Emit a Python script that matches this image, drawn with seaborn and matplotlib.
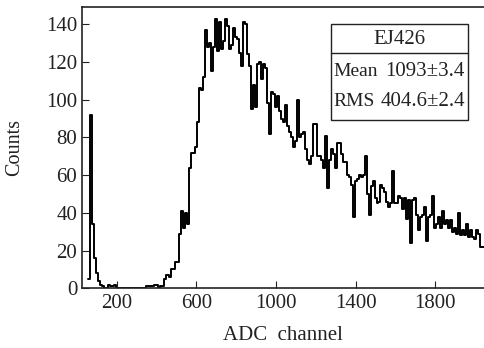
import numpy as np
import pandas as pd
import matplotlib
matplotlib.use("Agg")
import matplotlib.pyplot as plt
import seaborn as sns
from matplotlib.patches import Rectangle

# histogram: 10-channel bins starting at channel 55
bin_start = 55
bin_width = 10
counts = [
    # 55 - 195
    5, 92, 34, 16, 8, 4, 2, 1, 0, 0, 2, 1, 1, 2, 0,
    # 205 - 335
    0, 0, 0, 0, 0, 0, 0, 0, 0, 0, 0, 0, 0, 0,
    # 345 - 425
    1, 1, 1, 1, 2, 2, 0, 1, 1,
    # 435 - 995
    5, 7, 7, 6, 10, 10, 14, 14, 29, 41,
    32, 40, 34, 64, 72, 72, 75, 88, 106, 105,
    112, 137, 128, 130, 115, 128, 143, 126, 141, 127,
    131, 143, 139, 127, 129, 138, 133, 132, 125, 118,
    141, 140, 124, 118, 95, 108, 96, 119, 120, 111,
    119, 117, 98, 82, 104, 103, 96,
    # 1005 - 1115
    102, 94, 90, 88, 97, 86, 83, 80, 75, 78, 100, 80,
    # 1125 - 2035
    82, 83, 74, 68, 66, 70, 87, 87, 70, 70,
    68, 64, 81, 53, 68, 74, 71, 64, 77, 77,
    71, 67, 67, 60, 59, 55, 38, 57, 58, 60,
    59, 60, 70, 50, 39, 54, 57, 48, 45, 46,
    55, 53, 51, 46, 43, 45, 62, 45, 45, 49,
    48, 42, 48, 37, 47, 24, 47, 48, 39, 31,
    38, 39, 43, 25, 38, 39, 49, 32, 34, 38,
    32, 41, 34, 36, 32, 36, 30, 32, 29, 40,
    28, 31, 28, 34, 27, 31, 27, 26, 31, 29,
    22, 22,
]
x_ticks = [200, 600, 1000, 1400, 1800]
y_ticks = [0, 20, 40, 60, 80, 100, 120, 140]
title = "EJ426"
stat_names = ["Mean", "RMS"]
stat_values = ["1093\u00b13.4", "404.6\u00b12.4"]

edges = [bin_start + bin_width * i for i in range(len(counts) + 1)]
df = pd.DataFrame({"channel": np.array(edges[:-1]) + bin_width / 2,
                   "counts": counts})

sns.set_style("ticks")
plt.rcParams["font.family"] = ["Liberation Serif", "DejaVu Serif"]

fig = plt.figure(figsize=(4.84, 3.48), dpi=100)
ax = fig.add_axes([81.5 / 484, 1 - 288.3 / 348, 402.5 / 484, 281 / 348])

sns.histplot(data=df, x="channel", weights="counts", bins=edges, element="step",
             fill=False, color="black", linewidth=1.4, ax=ax)

ax.set_xlim(23, 2045)
ax.set_ylim(0, 149)
ax.set_xticks(x_ticks)
ax.set_yticks(y_ticks)
ax.tick_params(direction="in", length=5, width=0.8, labelsize=15,
               colors="#222222", pad=4)
ax.tick_params(axis="y", pad=3)
for s in ["left", "bottom", "top"]:
    ax.spines[s].set_linewidth(1.2)
    ax.spines[s].set_color("#222222")
ax.spines["right"].set_visible(False)

ax.set_xlabel("ADC  channel", fontsize=15, color="#222222")
ax.set_ylabel("Counts", fontsize=14.5, color="#222222")
ax.xaxis.set_label_coords(0.5, -0.133)
ax.yaxis.set_label_coords(-0.143, 0.5)

# stats box
def fx(px):
    return (px - 81.5) / 402.5

def fy(py):
    return (288.3 - py) / 281

x0, x1 = fx(330.7), fx(467.7)
y0, y1 = fy(120), fy(24)
ax.add_patch(Rectangle((x0, y0), x1 - x0, y1 - y0, transform=ax.transAxes,
                       fill=True, facecolor="white", edgecolor="#222222",
                       linewidth=1.0, zorder=5))
ax.plot([x0, x1], [fy(53), fy(53)], transform=ax.transAxes, color="#222222",
        linewidth=1.0, zorder=6)
ax.text((x0 + x1) / 2, fy(39), title, transform=ax.transAxes, ha="center",
        va="center", fontsize=15, color="#222222", zorder=7)
for i, (n, v) in enumerate(zip(stat_names, stat_values)):
    yy = fy(72 + 29 * i)
    ax.text(fx(333), yy, n, transform=ax.transAxes, ha="left", va="center",
            fontsize=14, color="#222222", zorder=7)
    ax.text(fx(465), yy, v, transform=ax.transAxes, ha="right", va="center",
            fontsize=15, color="#222222", zorder=7)

fig.savefig("out.png", dpi=100)
